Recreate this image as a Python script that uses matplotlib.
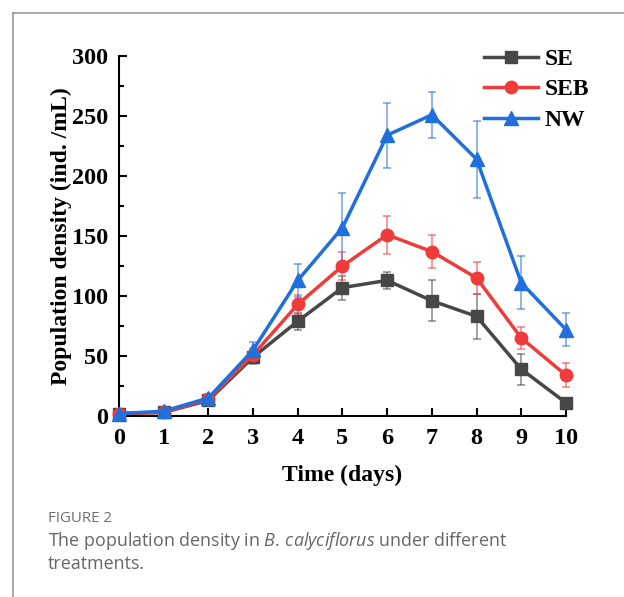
import numpy as np
import matplotlib.pyplot as plt
from matplotlib.lines import Line2D
from matplotlib.ticker import MultipleLocator
from matplotlib.font_manager import FontProperties

days = [0, 1, 2, 3, 4, 5, 6, 7, 8, 9, 10]

se = [2, 3, 13, 49, 79, 107, 113, 96, 83, 39, 11]
se_err = [1, 1, 2, 6, 7, 10, 7, 17, 19, 13, 2]

seb = [2, 3, 14, 51, 93, 125, 151, 137, 115, 65, 34]
seb_err = [1, 1, 2, 6, 8, 12, 16, 14, 13, 9, 10]

nw = [2, 4, 15, 55, 113, 157, 234, 251, 214, 111, 72]
nw_err = [1, 1, 2, 7, 14, 29, 27, 19, 32, 22, 14]

names = ['SE', 'SEB', 'NW']
colors = ['#474747', '#f03b3b', '#1f6fdc']
markers = ['s', 'o', '^']

plt.rcParams['mathtext.fontset'] = 'custom'
plt.rcParams['mathtext.rm'] = 'Open Sans'
plt.rcParams['mathtext.it'] = 'Open Sans:italic'

fig = plt.figure(figsize=(6.24, 5.97), dpi=100)
ax = fig.add_axes([0.1907, 0.3032, 0.7163, 0.603])

serif = 'Liberation Serif'
for y, e, c, mk, nm in zip([se, seb, nw], [se_err, seb_err, nw_err], colors, markers, names):
    ax.errorbar(days, y, yerr=e, fmt='none', ecolor=c, alpha=0.55, elinewidth=1.3,
                capsize=3, capthick=1.3, zorder=2, clip_on=False)
    ax.plot(days, y, color=c, marker=mk, markersize=10 if mk == '^' else 9, lw=2.5,
            label=nm, zorder=3, clip_on=False)

ax.set_xlim(0, 10)
ax.set_ylim(0, 300)
ax.set_xticks(days)
ax.yaxis.set_major_locator(MultipleLocator(50))
ax.yaxis.set_minor_locator(MultipleLocator(25))
for s in ['top', 'right']:
    ax.spines[s].set_visible(False)
for s in ['left', 'bottom']:
    ax.spines[s].set_linewidth(1.5)
ax.tick_params(which='major', direction='in', length=6, width=1.5, labelsize=17.5)
ax.tick_params(axis='x', which='major', pad=9)
ax.tick_params(axis='y', which='major', pad=8)
ax.tick_params(which='minor', direction='in', length=3.5, width=1.5)
for lab in ax.get_xticklabels() + ax.get_yticklabels():
    lab.set_fontfamily(serif)
    lab.set_fontweight('bold')

ax.set_xlabel('Time (days)', fontfamily=serif, fontweight='bold', fontsize=17, labelpad=11)
ax.set_ylabel('Population density (ind. /mL)', fontfamily=serif, fontweight='bold',
              fontsize=17, labelpad=0)

legfont = FontProperties(family=serif, weight='bold', size=17)
leg = ax.legend(loc='upper right', bbox_to_anchor=(1.10, 1.08), frameon=False,
                prop=legfont, handlelength=2.3, handletextpad=0.3, labelspacing=0.38)

# figure frame lines
fig.add_artist(Line2D([13 / 624, 13 / 624], [0, 1 - 13 / 597], color='#9a9a9a', lw=1.2))
fig.add_artist(Line2D([13 / 624, 1], [1 - 13 / 597, 1 - 13 / 597], color='#9a9a9a', lw=1.2))

fig.text(48 / 624, 1 - 518 / 597, 'FIGURE 2', fontfamily='Open Sans', fontsize=10.8,
         color='#6d6d6d', va='center')
fig.text(48 / 624, 1 - 541 / 597, 'The population density in $\\mathit{B.\\,calyciflorus}$ under different',
         fontfamily='Open Sans', fontsize=12.9, color='#666666', va='center')
fig.text(48 / 624, 1 - 564 / 597, 'treatments.', fontfamily='Open Sans', fontsize=12.9,
         color='#666666', va='center')

fig.savefig('out.png', dpi=100)
